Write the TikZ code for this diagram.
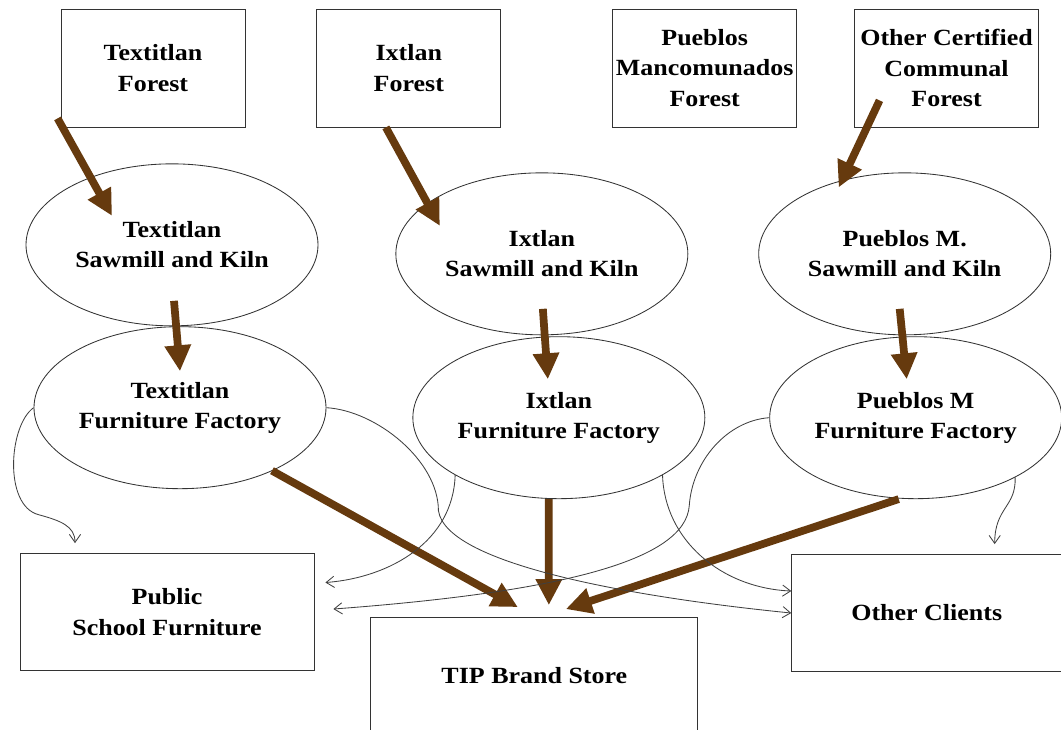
\documentclass[tikz,border=0pt]{standalone}
\usepackage{fontspec}
\setmainfont{Liberation Serif}[FakeStretch=1.12]
\usepackage{tikz}
\usetikzlibrary{shapes.geometric, arrows.meta, calc, positioning}
\definecolor{woodbrown}{RGB}{102,58,14}
\tikzstyle{box} = [rectangle, draw=black!80, line width=0.6pt, minimum width=46mm, minimum height=29.5mm, inner sep=0.5mm, align=center, font=\fontsize{16.5}{21.5}\selectfont\bfseries]
\tikzstyle{mill} = [ellipse, draw=black!80, line width=0.6pt, minimum width=73mm, minimum height=40.5mm, inner sep=0mm, align=center, font=\fontsize{16.5}{21.5}\selectfont\bfseries]
\tikzstyle{flow} = [line width=5.5pt, draw=woodbrown, fill=woodbrown, -{Triangle[length=6.5mm,width=6.25mm]}]
\tikzstyle{link} = [line width=0.6pt, draw=black!75, -{Straight Barb[length=2mm,width=2.8mm]}]

\begin{document}
\begin{tikzpicture}
		\useasboundingbox (0,0) rectangle (265.25mm,-182.5mm);
		\node (TexForest) [box] at (38.25mm,-17mm) {Textitlan\\Forest};
		\node (IxForest) [box, right = 17.75mm of TexForest] {Ixtlan\\Forest};
		\node (PMForest) [box, right = 27.75mm of IxForest] {Pueblos\\Mancomunados\\Forest};
		\node (OCForest) [box, right = 14.25mm of PMForest] {Other Certified\\Communal\\Forest};

		\node (TexSaw) [mill, below = 9mm of TexForest, xshift=4.75mm] {Textitlan\\Sawmill and Kiln};
		\node (IxSaw) [mill, right = 19.25mm of TexSaw, yshift=-2.25mm] {Ixtlan\\Sawmill and Kiln};
		\node (PMSaw) [mill, right = 17.5mm of IxSaw] {Pueblos M.\\Sawmill and Kiln};

		\node (TexFF) [mill, below = 0mm of TexSaw, xshift=2mm] {Textitlan\\Furniture Factory};
		\node (IxFF) [mill, below = 0.25mm of IxSaw, xshift=4.25mm] {Ixtlan\\Furniture Factory};
		\node (PMFF) [mill, below = 0.25mm of PMSaw, xshift=2.75mm] {Pueblos M\\Furniture Factory};

		\node (School) [box, minimum width=73.5mm, minimum height=29.25mm, below = 16mm of TexFF, xshift=-3.25mm] {Public\\School Furniture};
		\node (TIP) [box, minimum width=81.75mm, minimum height=29.25mm, below = 29.5mm of IxFF, xshift=-6.125mm] {TIP Brand Store};
		\node (Others) [box, minimum width=76mm, minimum height=29.25mm, below = 13.75mm of PMFF, xshift=7mm] {Other Clients\hspace*{8.5mm}};

		\draw [flow] ($(TexForest.south west)+(-0.75mm,2.25mm)$) -- ($(TexSaw.center)+(-15mm,7.25mm)$);
		\draw [flow] ($(IxForest.south)+(-5.75mm,0)$) -- ($(IxSaw.center)+(-25.5mm,7mm)$);
		\draw [flow] ($(OCForest.south)+(-16.75mm,6.75mm)$) -- ($(PMSaw.north)+(-16.5mm,-3.75mm)$);
		\draw [flow] ($(TexSaw.center)+(0.5mm,-14mm)$) -- ($(TexFF.north)+(0,-11.25mm)$);
		\draw [flow] ($(IxSaw.center)+(0.25mm,-13.75mm)$) -- ($(IxFF.north)+(-2.75mm,-10.75mm)$);
		\draw [flow] ($(PMSaw.center)+(-1.25mm,-13.75mm)$) -- ($(PMFF.north)+(-2.25mm,-10.75mm)$);
		\draw [flow] ($(TexFF.center)+(23mm,-15.75mm)$) -- ($(TIP.north)+(-4.125mm,2.5mm)$);
		\draw [flow] ($(IxFF.south)+(-2.5mm,0)$) -- ($(TIP.north)+(3.625mm,3mm)$);
		\draw [flow] ($(PMFF.south)+(-4.25mm,0)$) -- ($(TIP.north)+(7.875mm,2mm)$);

		\draw [link] (TexFF.west) .. controls +(-6.25mm,-4.5mm) and +(-8.75mm,2.25mm) .. ($(TexFF.west)+(1.25mm,-26.75mm)$) .. controls +(5.5mm,-1.5mm) and +(0,4.25mm) .. ($(School.north)+(-23mm,2.5mm)$);
		\draw [link] (TexFF.east) .. controls +(12.5mm,-0.75mm) and +(0,12.5mm) .. ($(TexFF.east)+(28mm,-25.75mm)$) .. controls +(2mm,-13.75mm) and +(-37.5mm,3.75mm) .. (Others.west);
		\draw [link] (IxFF.209) .. controls +(-0.5mm,-16.5mm) and +(16.25mm,1.25mm) .. ($(School.east)+(2.75mm,7.375mm)$);
		\draw [link] (IxFF.331) .. controls +(0.5mm,-16.25mm) and +(-17.5mm,0.75mm) .. ($(Others.west)+(0,5.5mm)$);
		\draw [link] (PMFF.west) .. controls +(-10.5mm,-0.75mm) and +(0.75mm,11.25mm) .. ($(PMFF.west)+(-20mm,-22mm)$) .. controls +(-1mm,-13.75mm) and +(56.75mm,4.25mm) .. ($(School.east)+(4.75mm,0.75mm)$);
		\draw [link] (PMFF.329) .. controls +(0.25mm,-7.5mm) and +(0,9.25mm) .. ($(Others.north)+(12.75mm,2.5mm)$);
\end{tikzpicture}
\end{document}
